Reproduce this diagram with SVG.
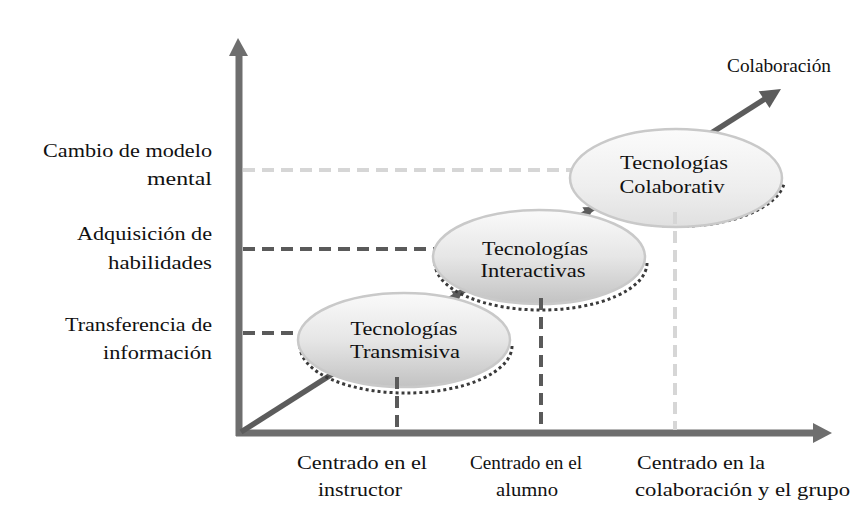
<svg xmlns="http://www.w3.org/2000/svg" width="865" height="531" viewBox="0 0 865 531" font-family="Liberation Serif, DejaVu Serif, serif">
<style>
  text { font-family: 'Liberation Serif', 'DejaVu Serif', serif; font-size: 19px; fill: #111; }
  .axis { stroke: #6e6e6e; stroke-width: 7; fill: none; }
  .axhead { fill: #6e6e6e; }
  .diag { stroke: #5c5c5c; stroke-width: 5.5; fill: none; }
  .dhead { fill: #5c5c5c; }
  .dark { stroke: #5a5a5a; stroke-width: 4; stroke-dasharray: 12 7; fill: none; }
  .light { stroke: #d6d6d6; stroke-width: 4; stroke-dasharray: 12 7; fill: none; }
  .ell { stroke: #c9c9c9; stroke-width: 2.5; }
  .shadow { stroke: #3a3a3a; stroke-width: 3; stroke-dasharray: 3 3; fill: none; }
  .mid { text-anchor: middle; }
  .end { text-anchor: end; }
</style>
<defs>
  <linearGradient id="g1" x1="0" y1="0" x2="0" y2="1">
    <stop offset="0" stop-color="#fafafa"/>
    <stop offset="0.5" stop-color="#e6e6e6"/>
    <stop offset="1" stop-color="#c2c2c2"/>
  </linearGradient>
  <linearGradient id="g3" x1="0" y1="0" x2="0" y2="1">
    <stop offset="0" stop-color="#fbfbfb"/>
    <stop offset="0.6" stop-color="#eeeeee"/>
    <stop offset="1" stop-color="#e0e0e0"/>
  </linearGradient>
</defs>
<rect width="865" height="531" fill="#ffffff"/>

<g id="connectors">
  <line class="axis" x1="239" y1="52" x2="239" y2="436"/>
  <polygon class="axhead" points="238,38 229,56 248,56"/>
  <line class="axis" x1="236" y1="433" x2="818" y2="433"/>
  <polygon class="axhead" points="832,433 813,423 813,443"/>
  <line class="diag" x1="241" y1="432" x2="768" y2="97"/>
  <polygon class="dhead" points="781,89 769.5,108.1 758.7,91.3"/>
  <polygon class="dhead" points="463,291 457.8,301.5 451.4,291.3"/>
  <polygon class="dhead" points="594,207 588.8,217.5 582.4,207.3"/>
  <line class="light" x1="243" y1="170" x2="571" y2="170"/>
  <line class="dark" x1="243" y1="249" x2="434" y2="249"/>
  <line class="dark" x1="243" y1="333" x2="299" y2="333"/>
</g>

<g id="node-transmisiva">
  <path class="shadow" d="M300,346 A106,47 0 0 0 512,346"/>
  <ellipse class="ell" cx="404" cy="340" rx="106" ry="47" fill="url(#g1)"/>
  <text class="mid" x="404" y="335" textLength="107" lengthAdjust="spacingAndGlyphs">Tecnologías</text>
  <text class="mid" x="405" y="358" textLength="110" lengthAdjust="spacingAndGlyphs">Transmisiva</text>
</g>

<g id="node-interactivas">
  <path class="shadow" d="M435,263 A106,47 0 0 0 647,263"/>
  <ellipse class="ell" cx="539" cy="257" rx="106" ry="47" fill="url(#g1)"/>
  <text class="mid" x="535" y="255" textLength="106" lengthAdjust="spacingAndGlyphs">Tecnologías</text>
  <text class="mid" x="533" y="277" textLength="105" lengthAdjust="spacingAndGlyphs">Interactivas</text>
</g>

<g id="node-colaborativ">
  <path class="shadow" d="M574,184 A106,49 0 0 0 784,184"/>
  <ellipse class="ell" cx="676" cy="178" rx="106" ry="49" fill="url(#g3)" stroke="#dadada"/>
  <text class="mid" x="674" y="169" textLength="108" lengthAdjust="spacingAndGlyphs">Tecnologías</text>
  <text class="mid" x="672" y="193" textLength="105" lengthAdjust="spacingAndGlyphs">Colaborativ</text>
</g>

<g id="vertical-guides">
  <line class="dark" x1="397" y1="377" x2="397" y2="430"/>
  <line class="dark" x1="541" y1="298" x2="541" y2="430"/>
  <line class="light" x1="675" y1="212" x2="675" y2="430"/>
</g>

<g id="label-colaboracion">
  <text x="727" y="72" textLength="104" lengthAdjust="spacingAndGlyphs">Colaboración</text>
</g>

<g id="y-labels">
  <text class="end" x="212" y="157" textLength="169" lengthAdjust="spacingAndGlyphs">Cambio de modelo</text>
  <text class="end" x="212" y="185" textLength="65" lengthAdjust="spacingAndGlyphs">mental</text>
  <text class="end" x="212" y="240" textLength="135" lengthAdjust="spacingAndGlyphs">Adquisición de</text>
  <text class="end" x="212" y="269" textLength="104" lengthAdjust="spacingAndGlyphs">habilidades</text>
  <text class="end" x="212" y="331" textLength="147" lengthAdjust="spacingAndGlyphs">Transferencia de</text>
  <text class="end" x="212" y="359" textLength="109" lengthAdjust="spacingAndGlyphs">información</text>
</g>

<g id="x-labels">
  <text class="mid" x="362" y="469" textLength="130" lengthAdjust="spacingAndGlyphs">Centrado en el</text>
  <text class="mid" x="360" y="496" textLength="84" lengthAdjust="spacingAndGlyphs">instructor</text>
  <text class="mid" x="526" y="469" textLength="112" lengthAdjust="spacingAndGlyphs">Centrado en el</text>
  <text class="mid" x="527" y="496" textLength="62" lengthAdjust="spacingAndGlyphs">alumno</text>
  <text x="637" y="469" textLength="128" lengthAdjust="spacingAndGlyphs">Centrado en la</text>
  <text x="635" y="496" textLength="215" lengthAdjust="spacingAndGlyphs">colaboración y el grupo</text>
</g>
</svg>
